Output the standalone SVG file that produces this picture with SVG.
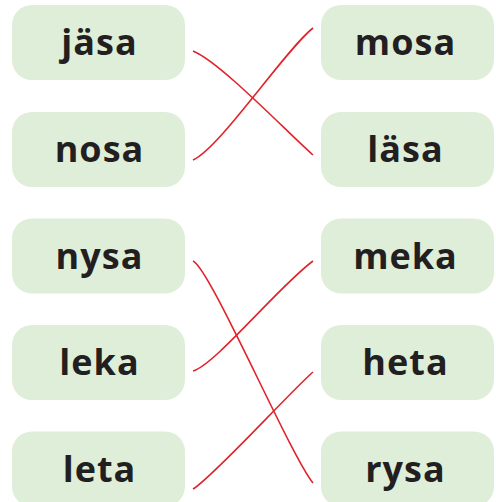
<svg xmlns="http://www.w3.org/2000/svg" width="496" height="502" viewBox="0 0 496 502">
<style>
.box{fill:#dfeed9}
.t{font-family:"Open Sans","Noto Sans","DejaVu Sans",sans-serif;font-weight:700;font-size:36px;letter-spacing:1px;fill:#231f20;text-anchor:middle}
.ln{fill:none;stroke:#e0242b;stroke-width:1.6}
</style>
<rect width="496" height="502" fill="#ffffff"/>
<g id="jasa"><rect class="box" x="12" y="5" width="173" height="75" rx="20"/><text class="t" x="99.5" y="55">jäsa</text></g>
<g id="nosa"><rect class="box" x="12" y="112" width="173" height="75" rx="20"/><text class="t" x="99.5" y="162">nosa</text></g>
<g id="nysa"><rect class="box" x="12" y="218.5" width="173" height="75" rx="20"/><text class="t" x="99.5" y="268.5">nysa</text></g>
<g id="leka"><rect class="box" x="12" y="325" width="173" height="75" rx="20"/><text class="t" x="99.5" y="375">leka</text></g>
<g id="leta"><rect class="box" x="12" y="431.5" width="173" height="75" rx="20"/><text class="t" x="99.5" y="481.5">leta</text></g>
<g id="mosa"><rect class="box" x="321" y="5" width="173" height="75" rx="20"/><text class="t" x="405.5" y="55">mosa</text></g>
<g id="lasa"><rect class="box" x="321" y="112" width="173" height="75" rx="20"/><text class="t" x="405.5" y="162">läsa</text></g>
<g id="meka"><rect class="box" x="321" y="218.5" width="173" height="75" rx="20"/><text class="t" x="405.5" y="268.5">meka</text></g>
<g id="heta"><rect class="box" x="321" y="325" width="173" height="75" rx="20"/><text class="t" x="405.5" y="375">heta</text></g>
<g id="rysa"><rect class="box" x="321" y="431.5" width="173" height="75" rx="20"/><text class="t" x="405.5" y="481.5">rysa</text></g>
<g id="connectors">
<path class="ln" d="M193,51 C220,62 285,130 313,155"/>
<path class="ln" d="M193,160 C220,148 285,50 313,28"/>
<path class="ln" d="M193,261 C210,268 290,455 313,483"/>
<path class="ln" d="M193,371 C215,365 280,285 313,261"/>
<path class="ln" d="M193,489 C212,478 290,392 313,372"/>
</g>
</svg>
